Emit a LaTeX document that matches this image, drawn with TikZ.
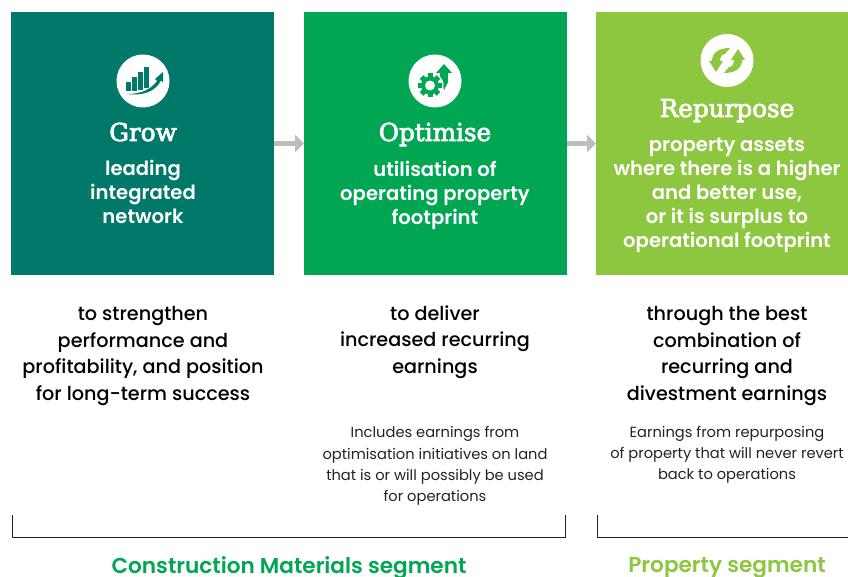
\documentclass[tikz,border=0pt]{standalone}
\usepackage{fontspec}
\setmainfont{Poppins}[BoldFont=* Medium]
\newfontfamily\semifont{Poppins SemiBold}
\newfontfamily\slabfont[FakeBold=3]{DejaVu Serif}
\usetikzlibrary{arrows.meta}
\definecolor{growgreen}{HTML}{00796B}
\definecolor{optgreen}{HTML}{00A651}
\definecolor{repgreen}{HTML}{8DC63F}
\definecolor{arrowgrey}{HTML}{BDBDBD}
\definecolor{inkgrey}{HTML}{222222}
\tikzset{
  panel/.style={minimum width=197.25pt, minimum height=197.25pt, inner sep=0, outer sep=0},
  title/.style={text=white, anchor=base, font=\slabfont\fontsize{18.5}{20}\selectfont},
  sub/.style={text=white, align=center, font=\semifont\fontsize{14.7}{18}\selectfont},
  aim/.style={text=black, align=center, font=\fontsize{14.4}{19.9}\selectfont\bfseries},
  note/.style={text=inkgrey, align=center, font=\fontsize{11}{15.9}\selectfont},
  seg/.style={align=center, font=\semifont\fontsize{16.2}{18}\selectfont},
  flow/.style={arrowgrey, line width=3.75pt, -{Triangle[length=6.75pt, width=12.75pt]}},
  bracket/.style={inkgrey, line width=0.6pt}
}
\begin{document}
\begin{tikzpicture}[x=0.75pt, y=-0.75pt]
\useasboundingbox (0,0) rectangle (848,577);
\node[panel, fill=growgreen] (grow) at (142.5,143.5) {};
\node[panel, fill=optgreen] (opt) at (435.5,143.5) {};
\fill[repgreen] (596,12) rectangle (848,275);
\coordinate (repin) at (596,143.5);
\coordinate (optout) at (567,143.5);
\draw[flow] (grow.east) -- (opt.west);
\draw[flow] (optout) -- (repin);

% grow icon
\fill[white] (143,81) circle (26.5);
\fill[growgreen] (126,82) rectangle (131,91);
\fill[growgreen] (132,77) rectangle (137,91);
\fill[growgreen] (138,72) rectangle (143,90);
\fill[growgreen] (144,67) rectangle (149,88);
\fill[growgreen] (127,94) .. controls (143,94) and (152,88) .. (157,81) -- (155,79) -- (163,72) -- (163,82.5) -- (161,80.5) .. controls (155,92) and (143,96) .. (127,94) -- cycle;

% optimise icon
\fill[white] (435,81) circle (26.5);
\fill[optgreen] (436,73) -- (444,64) -- (452,73) -- (448,73) -- (448,82) -- (444,90) -- (440,77) -- (440,73) -- cycle;
\fill[white] (430,85.5) circle (13.5);
\foreach \a in {0,45,...,315}
  \fill[optgreen, rotate around={\a:(430,85.5)}] (427.5,73.5) rectangle (432.5,78);
\fill[optgreen] (430,85.5) circle (9);
\fill[white] (430,85.5) circle (5);

% repurpose icon
\fill[white] (727,60.5) circle (26.5);
\foreach \a in {0,180}
  \fill[repgreen, rotate around={\a:(727,60.5)}] (709,61) -- (723,61) -- (716,72) -- cycle
    (712,61) .. controls (712,52) and (720,48) .. (730,48) -- (725,54) .. controls (722,54) and (720,57) .. (720,61) -- cycle;

% box texts
\node[title] (growt) at (143,141) {Grow};
\node[sub] (grows) at (143,192) {leading\\integrated\\network};
\node[title] (optt) at (435,141) {Optimise};
\node[sub] (opts) at (435,195) {utilisation of\\operating property\\footprint};
\node[title] (rept) at (727,117) {Repurpose};
\node[sub] (reps) at (727,195) {property assets\\where there is a higher\\and better use,\\or it is surplus to\\operational footprint};

% below the boxes
\node[aim] (growa) at (143,356) {to strengthen\\performance and\\profitability, and position\\for long-term success};
\node[aim] (opta) at (435,342) {to deliver\\increased recurring\\earnings};
\node[aim] (repa) at (727,356) {through the best\\combination of\\recurring and\\divestment earnings};
\node[note] (optn) at (435,466) {Includes earnings from\\optimisation initiatives on land\\that is or will possibly be used\\for operations};
\node[note] (repn) at (727,455) {Earnings from repurposing\\of property that will never revert\\back to operations};

% segments
\coordinate (a1) at (12,515);
\coordinate (a2) at (12,537);
\coordinate (a3) at (565.5,537);
\coordinate (a4) at (565.5,515);
\draw[bracket] (a1) -- (a2) -- (a3) -- (a4);
\coordinate (b1) at (597,515);
\coordinate (b2) at (597,537);
\coordinate (b3) at (848,537);
\draw[bracket] (b1) -- (b2) -- (b3);
\node[seg, text=optgreen] (cm) at (289,568) {Construction Materials segment};
\node[seg, text=repgreen] (prop) at (727,568) {Property segment};
\end{tikzpicture}
\end{document}
